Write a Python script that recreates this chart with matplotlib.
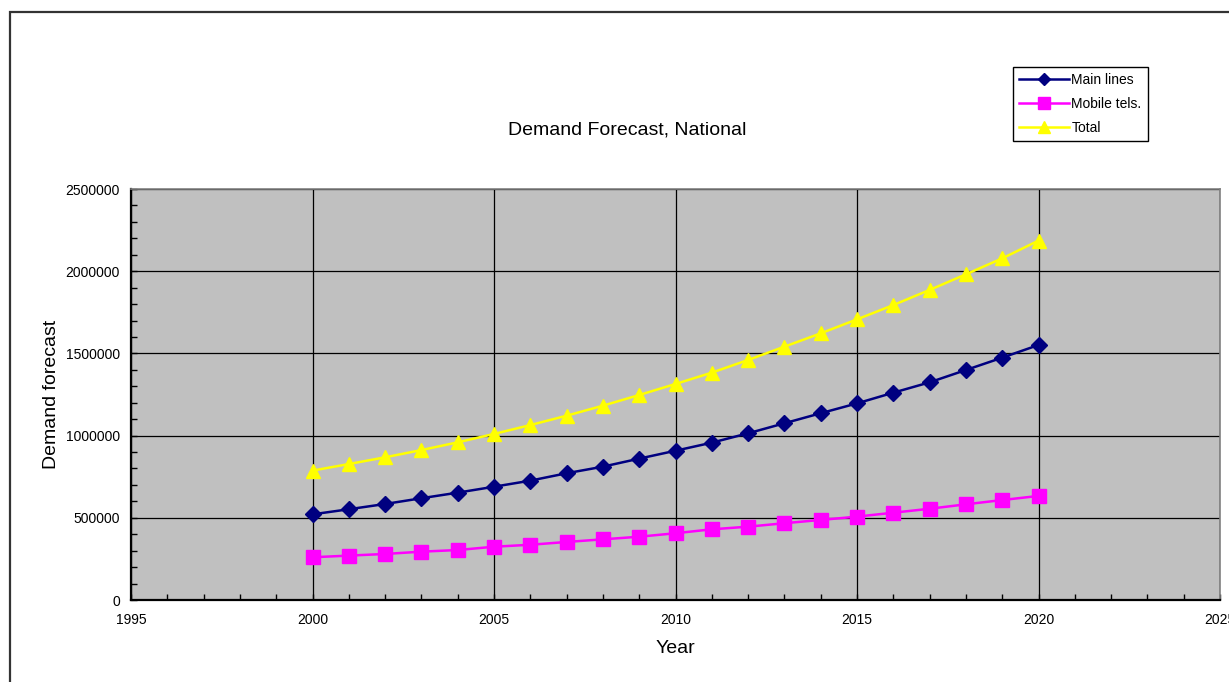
import matplotlib
matplotlib.use("Agg")
import matplotlib.pyplot as plt
from matplotlib.ticker import MultipleLocator, FuncFormatter
from matplotlib.patches import Rectangle

plt.rcParams['font.family'] = ['Liberation Sans', 'DejaVu Sans']

years = list(range(2000, 2021))
main_lines = [521000, 552000, 584000, 619000, 653000, 689000, 726000, 771000, 811000, 860000,
              908000, 957000, 1014000, 1075000, 1136000, 1196000, 1261000, 1324000, 1399000,
              1474000, 1551000]
mobile_tels = [260000, 270000, 280000, 294000, 304000, 324000, 336000, 353000, 369000, 385000,
               406000, 430000, 446000, 467000, 487000, 507000, 531000, 555000, 582000,
               608000, 633000]
total = [787000, 827000, 868000, 912000, 959000, 1010000, 1064000, 1121000, 1182000, 1247000,
         1314000, 1383000, 1460000, 1541000, 1622000, 1707000, 1794000, 1886000, 1981000,
         2078000, 2186000]

fig = plt.figure(figsize=(12.29, 6.82), dpi=100)
ax = fig.add_axes([131/1229, 1-600/682, (1220-131)/1229, (600-189)/682])
ax.set_facecolor('#C0C0C0')

ax.plot(years, main_lines, color='#000080', lw=1.8, marker='D', markersize=8, label='Main lines', zorder=3)
ax.plot(years, mobile_tels, color='#FF00FF', lw=1.8, marker='s', markersize=10, label='Mobile tels.', zorder=3)
ax.plot(years, total, color='#FFFF00', lw=1.8, marker='^', markersize=10, label='Total', zorder=3)

ax.set_xlim(1995, 2025)
ax.set_ylim(0, 2500000)
ax.xaxis.set_major_locator(MultipleLocator(5))
ax.xaxis.set_minor_locator(MultipleLocator(1))
ax.yaxis.set_major_locator(MultipleLocator(500000))
ax.yaxis.set_minor_locator(MultipleLocator(100000))
ax.yaxis.set_major_formatter(FuncFormatter(lambda v, p: f"{int(round(v))}"))
ax.grid(True, which='major', color='black', lw=0.9, zorder=1)
ax.set_axisbelow(True)
ax.tick_params(which='both', direction='in', length=4, width=1, labelsize=10, pad=8)
ax.tick_params(axis='x', which='both', pad=9)
for s in ['left', 'bottom']:
    ax.spines[s].set_color('black')
    ax.spines[s].set_linewidth(1.6)
for s in ['top', 'right']:
    ax.spines[s].set_color('#808080')
    ax.spines[s].set_linewidth(1.2)

ax.set_xlabel('Year', fontsize=14, labelpad=10)
ax.set_ylabel('Demand forecast', fontsize=14, labelpad=4)
fig.text(627/1229, 1-130/682, 'Demand Forecast, National', fontsize=14, ha='center', va='center')

leg = fig.legend(loc='upper left', bbox_to_anchor=(1013/1229, 1-67/682), borderaxespad=0,
                 fontsize=10, frameon=True, fancybox=False, edgecolor='black', framealpha=1,
                 handlelength=3.6, handletextpad=0.15, borderpad=0.45, labelspacing=0.7,
                 markerscale=0.8)
leg.get_frame().set_linewidth(1.0)

fig.patches.append(Rectangle((10/1229, -0.1), 1.2, 1-12/682+0.1, transform=fig.transFigure,
                             fill=False, edgecolor='#333333', lw=1.6))

fig.savefig('out.png', dpi=100)
